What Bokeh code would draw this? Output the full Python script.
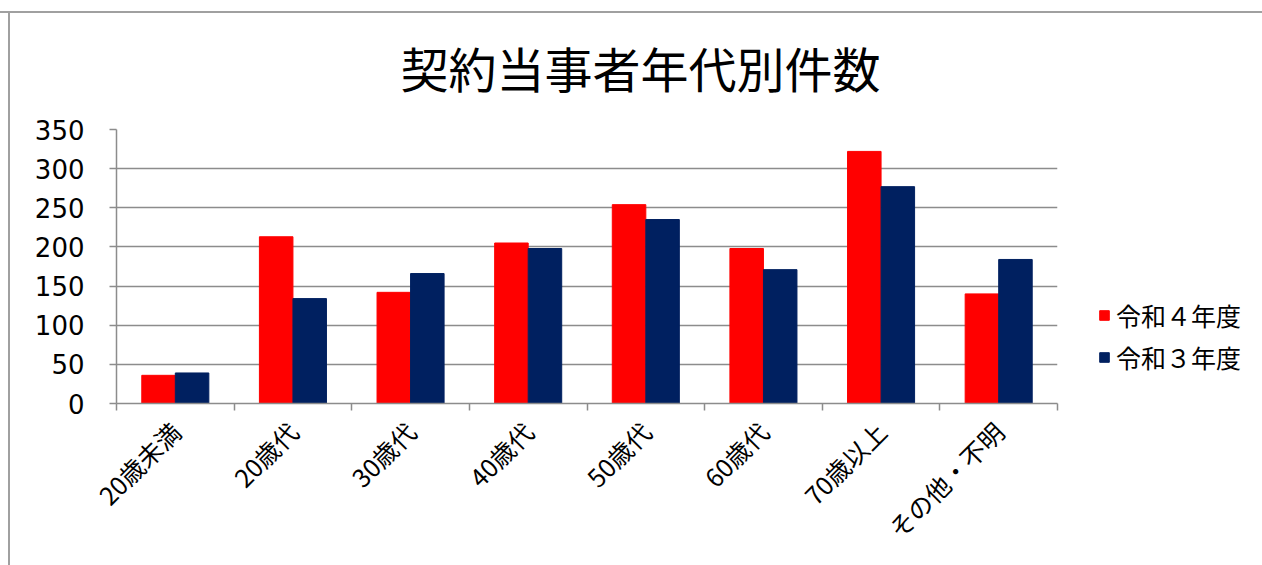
import math
from bokeh.plotting import figure
from bokeh.models import (LinearAxis, FixedTicker, Range1d, Legend, LegendItem,
                          ColumnDataSource, Title)
from bokeh.transform import dodge
from bokeh.embed import file_html
from bokeh.resources import INLINE

categories = ["20歳未満", "20歳代", "30歳代", "40歳代", "50歳代", "60歳代", "70歳以上", "その他・不明"]
r4_values = [36, 213, 142, 205, 254, 198, 322, 140]
r3_values = [39, 134, 166, 198, 235, 171, 277, 184]
series_names = ["令和４年度", "令和３年度"]
series_colors = ["#FF0000", "#002060"]
y_ticks = [0, 50, 100, 150, 200, 250, 300, 350]
title_text = "契約当事者年代別件数"

JP = "Noto Sans CJK JP"
GRAY = "#8c8c8c"
n = len(categories)
bw = 0.285

src = ColumnDataSource(dict(
    cat_idx=list(range(n)),
    r4=r4_values,
    r3=r3_values,
))

p = figure(output_backend="svg", toolbar_location=None,
           x_range=Range1d(0, n), y_range=Range1d(0, 350),
           x_axis_type=None, min_border_left=116, min_border_right=215,
           min_border_top=129, min_border_bottom=175)
p.frame_width = 941
p.frame_height = 274
p.styles = {
    "background": ("linear-gradient(#a0a0a0, #a0a0a0) 0px 11px / 100% 2px no-repeat, "
                   "linear-gradient(#a0a0a0, #a0a0a0) 8px 11px / 2px 100% no-repeat, white"),
}
p.outline_line_color = None
p.background_fill_color = "white"
p.border_fill_color = None

r1 = p.vbar(x=dodge("cat_idx", 0.5 - bw / 2, range=p.x_range), top="r4", width=bw,
            source=src, fill_color=series_colors[0], line_color=series_colors[0])
r2 = p.vbar(x=dodge("cat_idx", 0.5 + bw / 2, range=p.x_range), top="r3", width=bw,
            source=src, fill_color=series_colors[1], line_color=series_colors[1])

# y axis
ya = p.yaxis[0]
ya.ticker = FixedTicker(ticks=y_ticks)
ya.axis_line_color = GRAY
ya.axis_line_width = 1.5
ya.major_tick_line_color = GRAY
ya.major_tick_line_width = 1.5
ya.major_tick_out = 7
ya.major_tick_in = 0
ya.minor_tick_line_color = None
ya.major_label_standoff = 25
ya.major_label_text_font = "DejaVu Sans"
ya.major_label_text_font_size = "26px"
ya.major_label_text_color = "black"
p.ygrid.ticker = FixedTicker(ticks=y_ticks)
p.ygrid.grid_line_color = GRAY
p.ygrid.grid_line_width = 1.5

# x axis: boundary ticks
xa1 = LinearAxis(ticker=FixedTicker(ticks=list(range(n + 1))))
xa1.axis_line_color = GRAY
xa1.axis_line_width = 1.5
xa1.major_tick_line_color = GRAY
xa1.major_tick_line_width = 1.5
xa1.major_tick_out = 7
xa1.major_tick_in = 0
xa1.minor_tick_line_color = None
xa1.major_label_text_font_size = "0px"
xa1.major_label_text_alpha = 0
xa1.major_label_standoff = 0
p.add_layout(xa1, "below")

# x axis: category labels
centers = [i + 0.5 for i in range(n)]
xa2 = LinearAxis(ticker=FixedTicker(ticks=centers),
                 major_label_overrides={c: lab for c, lab in zip(centers, categories)})
xa2.axis_line_color = None
xa2.major_tick_line_color = None
xa2.minor_tick_line_color = None
xa2.major_label_orientation = math.pi / 4
xa2.major_label_standoff = 10
xa2.major_label_text_font = JP
xa2.major_label_text_font_size = "25px"
xa2.major_label_text_color = "black"
p.add_layout(xa2, "below")

# title
t = Title(text=title_text, align="left", offset=284, text_font=JP,
          text_font_size="48px", text_font_style="normal", text_color="black",
          standoff=56)
p.add_layout(t, "above")

legend = Legend(items=[LegendItem(label=series_names[0], renderers=[r1]),
                       LegendItem(label=series_names[1], renderers=[r2])],
                location=(41, 28))
legend.border_line_color = None
legend.background_fill_alpha = 0
legend.padding = 0
legend.margin = 0
legend.spacing = 6
legend.glyph_width = 12
legend.glyph_height = 12
legend.label_height = 30
legend.label_standoff = 6
legend.label_text_font = JP
legend.label_text_font_size = "25px"
legend.label_text_color = "black"
p.add_layout(legend, "right")

open("out.html", "w").write(file_html(p, INLINE))
